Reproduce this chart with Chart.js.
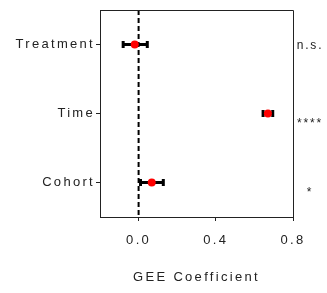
<!DOCTYPE html>
<html>
<head>
<meta charset="utf-8">
<script src="https://cdn.jsdelivr.net/npm/chart.js@4/dist/chart.umd.min.js"></script>
<style>
  body { margin: 0; background: #fff; }
  #wrap { width: 327px; height: 293px; }
</style>
</head>
<body>
<div id="wrap"><canvas id="forestChart"></canvas></div>
<script>
// data
const categories = ['Treatment', 'Time', 'Cohort'];
const coef = [-0.02, 0.67, 0.068];
const ciLow = [-0.08, 0.645, 0.01];
const ciHigh = [0.045, 0.695, 0.128];
const sigLabels = ['n.s.', '****', '*'];
const xTickValues = [0, 0.4, 0.8];

const FONT = '"Liberation Sans", Arial, sans-serif';
const INK = '#222';

// wide letter spacing like the original figure
const spacing = {
    id: 'spacing',
    beforeLayout(chart) { chart.ctx.letterSpacing = '2.3px'; },
    beforeDraw(chart) { chart.ctx.letterSpacing = '2.3px'; }
};

// top and right side of the box + significance marks
const frame = {
    id: 'frame',
    afterDraw(chart) {
        const {ctx, chartArea, scales} = chart;
        ctx.save();
        ctx.strokeStyle = INK;
        ctx.lineWidth = 1;
        ctx.beginPath();
        ctx.moveTo(chartArea.left, chartArea.top + 0.5);
        ctx.lineTo(chartArea.right + 0.5, chartArea.top + 0.5);
        ctx.lineTo(chartArea.right + 0.5, chartArea.bottom);
        ctx.stroke();

        ctx.font = '12px ' + FONT;
        ctx.letterSpacing = '1.8px';
        ctx.fillStyle = INK;
        ctx.textAlign = 'center';
        ctx.textBaseline = 'alphabetic';
        sigLabels.forEach((s, i) => {
            const y = scales.y.getPixelForValue(i) + (s.startsWith('*') ? 13 : 4);
            ctx.fillText(s, chartArea.right + 17, y);
        });
        ctx.restore();
    }
};

const points = categories.map((c, i) => ({x: coef[i], y: i}));

const errorBars = categories.map((c, i) => ({
    data: [{x: ciLow[i], y: i}, {x: ciHigh[i], y: i}],
    showLine: true,
    borderColor: '#000',
    borderWidth: 3,
    pointStyle: 'line',
    pointRotation: 90,
    pointRadius: 3.5,
    pointBorderWidth: 3,
    pointBorderColor: '#000'
}));

const datasets = [
    {
        data: points,
        backgroundColor: '#ff0000',
        borderWidth: 0,
        pointRadius: 4
    },
    ...errorBars,
    {
        data: [{x: 0, y: -0.5}, {x: 0, y: 2.5}],
        showLine: true,
        borderColor: '#000',
        borderWidth: 2,
        borderDash: [5, 3],
        pointRadius: 0
    }
];

const ctx = document.getElementById('forestChart').getContext('2d');

const myChart = new Chart(ctx, {
    type: 'scatter',
    data: { datasets: datasets },
    options: {
        responsive: true,
        maintainAspectRatio: false,
        animation: false,
        events: [],
        layout: { padding: { top: 10, right: 34, left: 0, bottom: 0 } },
        plugins: {
            legend: { display: false },
            tooltip: { enabled: false }
        },
        scales: {
            x: {
                type: 'linear',
                min: -0.2,
                max: 0.8,
                afterBuildTicks: (scale) => {
                    scale.ticks = xTickValues.map(v => ({value: v}));
                },
                afterFit: (scale) => { scale.height = 76; },
                grid: { drawOnChartArea: false, tickLength: 4, color: INK },
                border: { color: INK, width: 1 },
                ticks: {
                    padding: 12,
                    color: INK,
                    font: { family: FONT, size: 13 },
                    callback: (v) => v.toFixed(1)
                },
                title: {
                    display: true,
                    text: 'GEE Coefficient',
                    color: INK,
                    font: { family: FONT, size: 13 },
                    padding: { top: 0, bottom: 8 }
                }
            },
            y: {
                type: 'linear',
                min: -0.5,
                max: 2.5,
                reverse: true,
                afterBuildTicks: (scale) => {
                    scale.ticks = categories.map((c, i) => ({value: i}));
                },
                afterFit: (scale) => { scale.width = 100; },
                grid: { drawOnChartArea: false, tickLength: 4, color: INK },
                border: { color: INK, width: 1 },
                ticks: {
                    padding: 1,
                    color: INK,
                    font: { family: FONT, size: 13 },
                    callback: (v) => categories[v]
                }
            }
        }
    },
    plugins: [spacing, frame]
});
myChart.update();
</script>
</body>
</html>
